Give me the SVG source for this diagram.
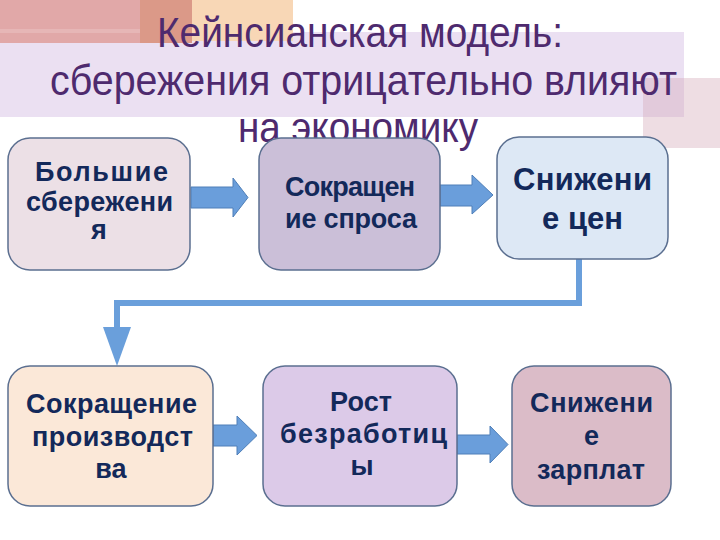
<svg xmlns="http://www.w3.org/2000/svg" width="720" height="540" viewBox="0 0 720 540">
<style>
.title{font-family:"Liberation Sans",Arial,sans-serif;font-size:43px;fill:#4e2a6e;text-anchor:middle}
.box{stroke:#5b6f90;stroke-width:1.5}
.lbl{font-family:"Liberation Sans",Arial,sans-serif;font-weight:bold;font-size:27px;fill:#13295a;text-anchor:middle}
.big{font-size:31px}
.arr{fill:#6a9edb;stroke:#4f7fb8;stroke-width:1}
.conn{fill:none;stroke:#6a9fdb;stroke-width:6}
</style>
<rect width="720" height="540" fill="#ffffff"/>
<g id="background">
<rect x="0" y="32" width="684" height="85" fill="#ebe0f2"/>
<rect x="643" y="78" width="77" height="70" fill="#eedde3"/>
<rect x="643" y="78" width="41" height="39" fill="#e2cadb"/>
<rect x="0" y="0" width="140" height="43" fill="#e1a8a8"/>
<rect x="0" y="29" width="140" height="4" fill="#e6b6b6"/>
<rect x="140" y="0" width="52" height="43" fill="#db9988"/>
<rect x="192" y="0" width="101" height="41" fill="#f8d7b6"/>
</g>
<g id="title">
<text class="title" x="360" y="47" textLength="406" lengthAdjust="spacingAndGlyphs">Кейнсианская модель:</text>
<text class="title" x="363.5" y="95" textLength="627" lengthAdjust="spacingAndGlyphs">сбережения отрицательно влияют</text>
<text class="title" x="358" y="142" textLength="240" lengthAdjust="spacingAndGlyphs">на экономику</text>
</g>
<g id="connectors">
<polygon class="arr" points="191,187 233,187 233,178 248,197.5 233,217 233,208 191,208"/>
<polygon class="arr" points="440,185 472,185 472,175 493,195 472,214 472,206 440,206"/>
<polygon class="arr" points="213,425 237,425 237,416 257,435.5 237,455 237,446 213,446"/>
<polygon class="arr" points="457,435 490,435 490,426 508,444.5 490,463 490,454 457,454"/>
<path class="conn" d="M579,259 V303 H117 V330"/>
<polygon points="103,327 131,327 117,366" fill="#6a9fdb"/>
</g>
<g id="node1">
<rect class="box" x="8" y="138" width="182" height="132" rx="22" fill="#ece0e6"/>
<text class="lbl" x="101.5" y="181" textLength="133" lengthAdjust="spacing">Большие</text>
<text class="lbl" x="99.5" y="211" textLength="147" lengthAdjust="spacing">сбережени</text>
<text class="lbl" x="99" y="239">я</text>
</g>
<g id="node2">
<rect class="box" x="259" y="138" width="181" height="132" rx="22" fill="#cbbfd8"/>
<text class="lbl" x="350" y="196" textLength="130" lengthAdjust="spacing">Сокращен</text>
<text class="lbl" x="351" y="228" textLength="132" lengthAdjust="spacing">ие спроса</text>
</g>
<g id="node3">
<rect class="box" x="497" y="137" width="171" height="122" rx="22" fill="#dde8f5"/>
<text class="lbl big" x="582.5" y="190" textLength="139" lengthAdjust="spacing">Снижени</text>
<text class="lbl big" x="582.5" y="229" textLength="81" lengthAdjust="spacing">е цен</text>
</g>
<g id="node4">
<rect class="box" x="8" y="366" width="205" height="140" rx="22" fill="#fbe8d8"/>
<text class="lbl" x="111.5" y="413" textLength="171" lengthAdjust="spacing">Сокращение</text>
<text class="lbl" x="112.5" y="446" textLength="161" lengthAdjust="spacing">производст</text>
<text class="lbl" x="111" y="478">ва</text>
</g>
<g id="node5">
<rect class="box" x="263" y="366" width="194" height="140" rx="22" fill="#dccae8"/>
<text class="lbl" x="361" y="411" textLength="62" lengthAdjust="spacing">Рост</text>
<text class="lbl" x="363.5" y="443" textLength="167" lengthAdjust="spacing">безработиц</text>
<text class="lbl" x="362" y="475">ы</text>
</g>
<g id="node6">
<rect class="box" x="512" y="366" width="159" height="140" rx="22" fill="#dbbcc8"/>
<text class="lbl" x="591.5" y="412" textLength="123" lengthAdjust="spacing">Снижени</text>
<text class="lbl" x="591.5" y="445">е</text>
<text class="lbl" x="591" y="479" textLength="108" lengthAdjust="spacing">зарплат</text>
</g>
</svg>
